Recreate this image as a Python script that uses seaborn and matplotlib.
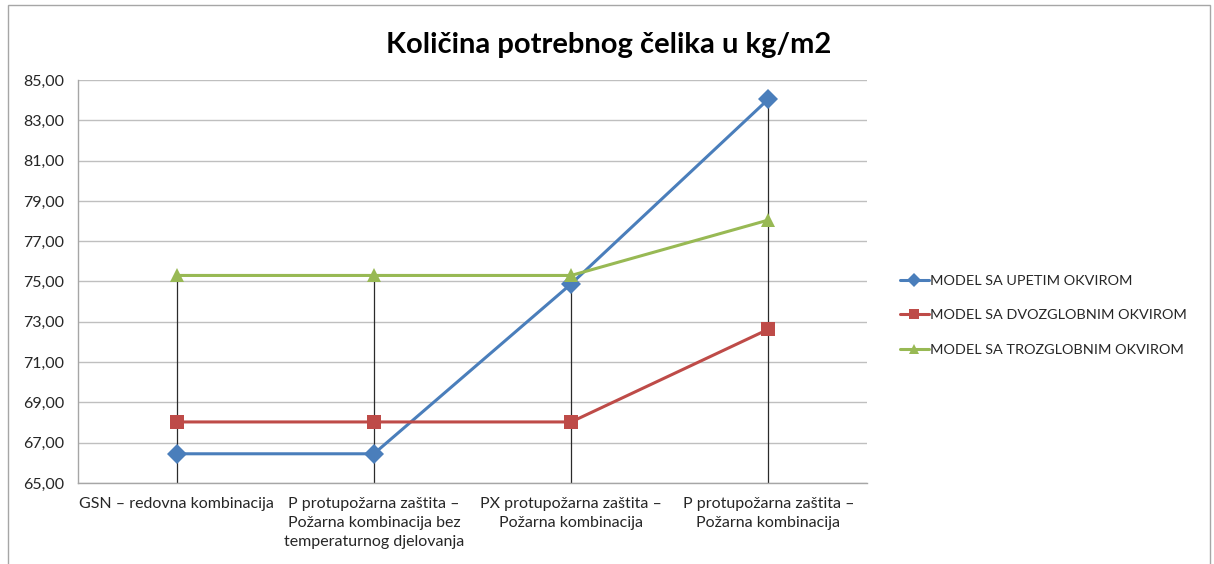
import numpy as np
import pandas as pd
import matplotlib
matplotlib.use("Agg")
import matplotlib.pyplot as plt
import seaborn as sns
from matplotlib.ticker import FuncFormatter, FixedLocator
from matplotlib.patches import Rectangle

categories = [
    "GSN – redovna kombinacija",
    "P protupožarna zaštita –\nPožarna kombinacija bez\ntemperaturnog djelovanja",
    "PX protupožarna zaštita –\nPožarna kombinacija",
    "P protupožarna zaštita –\nPožarna kombinacija",
]
series_names = [
    "MODEL SA UPETIM OKVIROM",
    "MODEL SA DVOZGLOBNIM OKVIROM",
    "MODEL SA TROZGLOBNIM OKVIROM",
]
upeti = [66.45, 66.45, 74.88, 84.05]
dvozglobni = [68.03, 68.03, 68.03, 72.63]
trozglobni = [75.30, 75.30, 75.30, 78.05]

colors = ["#4A7EBB", "#BE4B48", "#98B954"]
markers = ["D", "s", "^"]

rows = []
for name, vals in zip(series_names, [upeti, dvozglobni, trozglobni]):
    for i, v in enumerate(vals):
        rows.append({"pos": i, "value": v, "model": name})
df = pd.DataFrame(rows)

sns.set_theme(style="white")
plt.rcParams["font.family"] = ["Lato", "DejaVu Sans"]

fig = plt.figure(figsize=(12.14, 5.64), dpi=100)
ax = fig.add_axes([78 / 1214, 1 - 483 / 564, (867 - 78) / 1214, (483 - 80) / 564])

# chart frame
fig.patches.append(Rectangle((8 / 1214, -0.05), (1210 - 8) / 1214, 1.0 - 5 / 564 + 0.05,
                             transform=fig.transFigure, fill=False,
                             edgecolor="#A6A6A6", linewidth=1.0))

ax.set_ylim(65, 85)
ax.set_xlim(-0.5, len(categories) - 0.5)
ax.set_yticks(np.arange(65, 85.01, 2))
ax.yaxis.set_major_formatter(FuncFormatter(lambda v, p: f"{v:.2f}".replace(".", ",")))
ax.grid(axis="y", color="#BFBFBF", linewidth=1.0)
ax.set_axisbelow(True)

# drop lines from the highest point of each category
tops = np.max(np.vstack([upeti, dvozglobni, trozglobni]), axis=0)
ax.vlines(np.arange(len(categories)), 65, tops, color="#2B2B2B", linewidth=0.9, zorder=1)

sns.lineplot(data=df, x="pos", y="value", hue="model", style="model",
             hue_order=series_names, style_order=series_names,
             palette=colors, markers=markers, dashes=False, sort=False,
             linewidth=2.2, markersize=10, markeredgewidth=0, ax=ax, zorder=3)

ax.xaxis.set_major_locator(FixedLocator(range(len(categories))))
ax.set_xticklabels(categories, fontsize=11.5, linespacing=1.45)
ax.xaxis.set_minor_locator(FixedLocator(np.arange(-0.5, len(categories), 1.0)))
ax.tick_params(axis="x", which="major", length=0, pad=10)
ax.tick_params(axis="x", which="minor", length=7, width=1, color="#A6A6A6", direction="out")
ax.tick_params(axis="y", length=0, pad=10, labelsize=11.5)
ax.set_xlabel("")
ax.set_ylabel("")

for s in ["top", "right"]:
    ax.spines[s].set_visible(False)
for s in ["left", "bottom"]:
    ax.spines[s].set_color("#A6A6A6")
    ax.spines[s].set_linewidth(1.0)

fig.text(0.5 + 2 / 1214, 1 - 45 / 564, "Količina potrebnog čelika u kg/m2", ha="center", va="center",
         fontsize=21, fontweight="bold", color="black")

leg = ax.legend(loc="center left", bbox_to_anchor=(887 / 1214, 1 - 315 / 564),
                bbox_transform=fig.transFigure, frameon=False, fontsize=10.4,
                handlelength=2.0, handletextpad=0.1, labelspacing=1.55, markerscale=0.7)

fig.savefig("out.png", dpi=100)
